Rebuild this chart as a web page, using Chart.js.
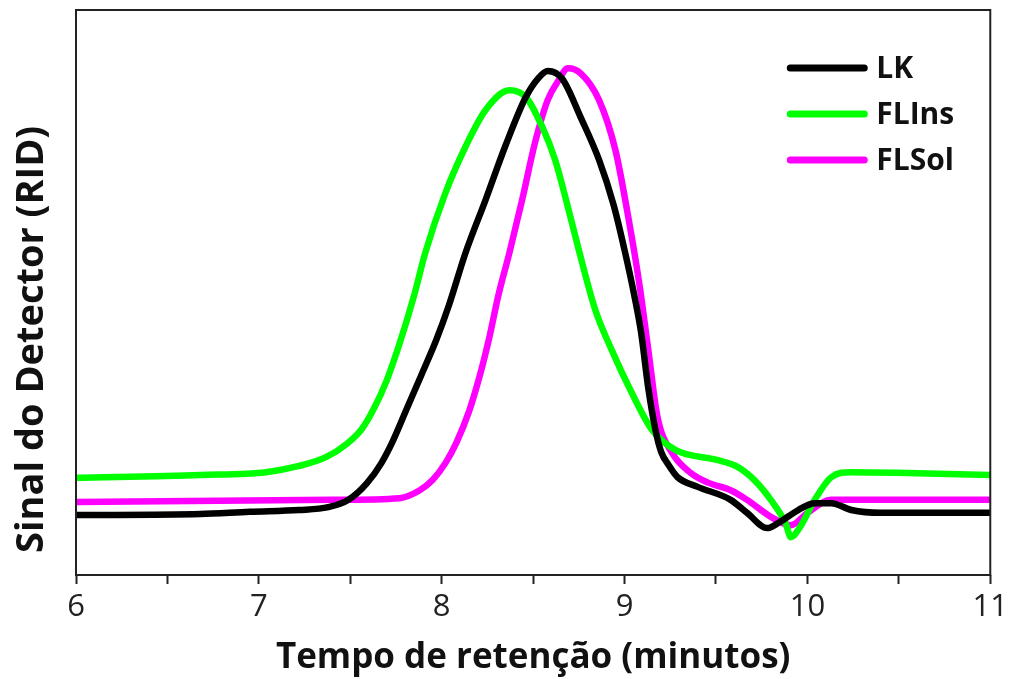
<!DOCTYPE html>
<html>
<head>
<meta charset="utf-8">
<script src="https://cdn.jsdelivr.net/npm/chart.js@4.4.0/dist/chart.umd.min.js"></script>
<style>
html, body { margin: 0; padding: 0; background: #fff; }
</style>
</head>
<body>
<canvas id="mycanvas" width="1013" height="679"></canvas>
<script>
var seriesNames = ["LK", "FLIns", "FLSol"];
var seriesColors = ["#000000", "#00ff00", "#ff00ff"];

// retention time (min) / detector signal (a.u.)
var lkTime = [6.00, 6.68, 6.95, 7.22, 7.38, 7.49, 7.59, 7.67, 7.73, 7.81, 7.89, 7.97, 8.04, 8.13, 8.24, 8.35, 8.46, 8.53, 8.58, 8.66, 8.76, 8.86, 8.94, 9.00, 9.05, 9.09, 9.13, 9.17, 9.20, 9.24, 9.29, 9.40, 9.58, 9.67, 9.78, 9.84, 9.95, 10.04, 10.13, 10.24, 10.40, 10.67, 11.00];
var lkSignal = [10.6, 10.8, 11.2, 11.5, 12.0, 13.3, 16.2, 19.8, 23.5, 29.5, 35.5, 41.6, 47.8, 57.0, 66.4, 76.1, 84.6, 88.0, 89.2, 87.8, 81.0, 73.5, 65.5, 57.5, 50.0, 43.0, 33.0, 25.5, 21.8, 19.5, 17.3, 15.6, 13.3, 11.0, 8.3, 9.2, 11.5, 12.7, 12.7, 11.5, 11.0, 11.0, 11.0];

var flInsTime = [6.00, 6.68, 7.04, 7.22, 7.37, 7.48, 7.56, 7.63, 7.70, 7.77, 7.85, 7.91, 8.02, 8.13, 8.24, 8.37, 8.46, 8.55, 8.62, 8.68, 8.75, 8.84, 8.93, 9.04, 9.15, 9.28, 9.50, 9.62, 9.71, 9.80, 9.88, 9.91, 9.96, 10.04, 10.13, 10.24, 10.49, 11.00];
var flInsSignal = [17.2, 17.7, 18.2, 19.3, 20.9, 23.2, 25.7, 29.5, 34.5, 41.0, 49.6, 57.0, 67.6, 75.8, 82.3, 85.8, 84.6, 79.3, 73.5, 66.4, 57.5, 46.9, 39.8, 32.2, 25.7, 22.1, 20.4, 19.1, 16.8, 13.3, 9.2, 6.7, 8.5, 13.3, 17.3, 18.2, 18.1, 17.7];

var flSolTime = [6.00, 7.40, 7.77, 7.88, 7.95, 8.02, 8.08, 8.15, 8.21, 8.26, 8.31, 8.37, 8.44, 8.51, 8.58, 8.64, 8.69, 8.76, 8.86, 8.95, 9.02, 9.08, 9.13, 9.18, 9.26, 9.36, 9.46, 9.58, 9.67, 9.80, 9.91, 10.00, 10.13, 10.31, 10.67, 11.00];
var flSolSignal = [12.9, 13.3, 13.6, 15.0, 16.8, 19.8, 23.4, 29.0, 35.5, 42.0, 49.5, 57.0, 66.4, 76.5, 84.1, 87.6, 89.7, 88.8, 84.1, 75.2, 63.4, 51.7, 39.8, 28.0, 21.6, 18.1, 16.3, 15.0, 13.3, 10.3, 8.8, 11.0, 13.3, 13.3, 13.3, 13.3];

var xMin = 6, xMax = 11;
var xTitle = "Tempo de retenção (minutos)";
var yTitle = "Sinal do Detector (RID)";

function toPoints(xs, ys) {
	var pts = [];
	for (var i in xs) {
		pts.push({ x: xs[i], y: ys[i] });
	}
	return pts;
}

var allTimes = [lkTime, flInsTime, flSolTime];
var allSignals = [lkSignal, flInsSignal, flSolSignal];

var datasets = [];
for (var i = 0; i < seriesNames.length; i++) {
	datasets.push({
		label: seriesNames[i],
		data: toPoints(allTimes[i], allSignals[i]),
		borderColor: seriesColors[i],
		backgroundColor: seriesColors[i],
		borderWidth: 6.5,
		pointRadius: 0,
		fill: false,
		cubicInterpolationMode: 'monotone',
		borderJoinStyle: 'round',
		borderCapStyle: 'round'
	});
}

// box around the plot
var framePlugin = {
	id: 'frame',
	afterDraw: function(chart) {
		var a = chart.chartArea;
		var ctx = chart.ctx;
		ctx.save();
		ctx.strokeStyle = "#222";
		ctx.lineWidth = 2;
		ctx.strokeRect(a.left, a.top, a.right - a.left, a.bottom - a.top);
		ctx.restore();
	}
};

// y title sits a bit below the middle of the axis, like the original
var yTitlePlugin = {
	id: 'yTitle',
	afterDraw: function(chart) {
		var a = chart.chartArea;
		var ctx = chart.ctx;
		ctx.save();
		ctx.translate(32, a.top + (a.bottom - a.top) * 0.583);
		ctx.rotate(-Math.PI / 2);
		ctx.font = "bold 38px 'Open Sans'";
		ctx.fillStyle = "#111";
		ctx.textAlign = "center";
		ctx.textBaseline = "middle";
		ctx.fillText(yTitle, 0, 0);
		ctx.restore();
	}
};

// legend in the top right corner of the plot
var legendPlugin = {
	id: 'cornerLegend',
	afterDraw: function(chart) {
		var a = chart.chartArea;
		var ctx = chart.ctx;
		var x0 = a.right - 200;
		var y0 = a.top + 58;
		ctx.save();
		ctx.font = "bold 30px 'Open Sans'";
		ctx.textBaseline = "middle";
		ctx.lineCap = "round";
		chart.data.datasets.forEach(function(ds, k) {
			var y = y0 + k * 46;
			ctx.strokeStyle = ds.borderColor;
			ctx.lineWidth = 7;
			ctx.beginPath();
			ctx.moveTo(x0, y);
			ctx.lineTo(x0 + 74, y);
			ctx.stroke();
			ctx.fillStyle = "#111";
			ctx.fillText(ds.label, x0 + 86, y + 1);
		});
		ctx.restore();
	}
};

var ctx = document.getElementById("mycanvas");

var LineGraph = new Chart(ctx, {
	type: 'line',
	data: { datasets: datasets },
	plugins: [framePlugin, yTitlePlugin, legendPlugin],
	options: {
		responsive: false,
		animation: false,
		devicePixelRatio: 1,
		layout: { padding: { top: 10, right: 20, left: 0, bottom: 0 } },
		plugins: {
			legend: { display: false },
			tooltip: { enabled: false }
		},
		scales: {
			x: {
				type: 'linear',
				min: xMin,
				max: xMax,
				border: { display: false },
				grid: {
					drawOnChartArea: false,
					drawTicks: true,
					tickLength: 9,
					tickWidth: 2,
					tickColor: "#222"
				},
				ticks: {
					stepSize: 0.5,
					autoSkip: false,
					maxRotation: 0,
					padding: 5,
					color: "#222",
					font: { family: "'Open Sans'", size: 31 },
					callback: function(v) { return v % 1 === 0 ? v : ''; }
				},
				title: {
					display: true,
					text: xTitle,
					color: "#111",
					font: { family: "'Open Sans'", size: 35, weight: 'bold' },
					padding: { top: 0, bottom: 0 }
				},
				afterFit: function(scale) { scale.height = 104; }
			},
			y: {
				min: 0,
				max: 100,
				border: { display: false },
				grid: { display: false },
				ticks: { display: false },
				title: { display: false },
				afterFit: function(scale) { scale.width = 76; }
			}
		}
	}
});
</script>
</body>
</html>
